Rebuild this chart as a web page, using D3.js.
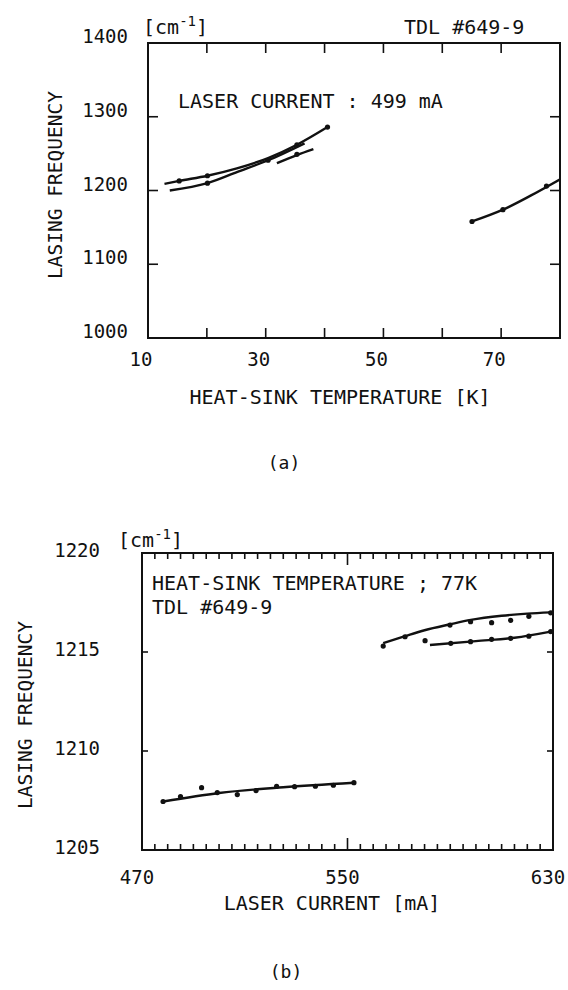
<!DOCTYPE html>
<html><head><meta charset="utf-8">
<script src="https://cdn.jsdelivr.net/npm/d3@7"></script>
<style>
html,body{margin:0;padding:0;background:#fff;}
text{font-family:"DejaVu Sans Mono",monospace;fill:#111;}
</style></head>
<body>
<svg id="c" width="568" height="990"></svg>
<script>
// ---------- DATA (a) ----------
const aXLabels = [10, 30, 50, 70];
const aXTicks = [20, 30, 40, 50, 60, 70];
const aYLabels = [1000, 1100, 1200, 1300, 1400];
const aYTicks = [1100, 1200, 1300];
// curves (temperature K, frequency cm-1)
const a1T = [12.8, 15.3, 20.1, 25.1, 30.4, 35.3, 40.5];
const a1F = [1209, 1213, 1220, 1230, 1244, 1262, 1286];
const a1DotT = [15.3, 20.1, 35.3, 40.5];
const a1DotF = [1213, 1220, 1262, 1286];
const a2T = [13.7, 20.1, 25.1, 30.4, 36.6];
const a2F = [1200, 1210, 1225, 1241, 1264];
const a2DotT = [20.1, 30.4];
const a2DotF = [1210, 1241];
const a3T = [31.9, 35.3, 38.1];
const a3F = [1237, 1248, 1256];
const a3DotT = [35.3];
const a3DotF = [1249];
const a4T = [65.05, 70.3, 75.0, 80.4];
const a4F = [1158, 1174, 1193, 1217];
const a4DotT = [65.05, 70.3, 77.7];
const a4DotF = [1158, 1174, 1206];

// ---------- DATA (b) ----------
const bXLabels = [470, 550, 630];
const bXTicks = d3.range(475, 630, 5);
const bXMajor = [550];
const bYLabels = [1205, 1210, 1215, 1220];
const bYTicks = [1210, 1215];
const b1I = [478.2, 500, 525, 552.5];
const b1F = [1207.45, 1207.88, 1208.17, 1208.4];
const b1DotI = [478.2, 485, 493.2, 499.3, 507.1, 514.4, 522.4, 529.4, 537.5, 544.5, 552.5];
const b1DotF = [1207.45, 1207.7, 1208.15, 1207.9, 1207.8, 1208.0, 1208.22, 1208.2, 1208.22, 1208.27, 1208.4];
const b2I = [563.9, 572.4, 580, 590, 598, 610, 620, 629.1];
const b2F = [1215.45, 1215.8, 1216.1, 1216.4, 1216.62, 1216.83, 1216.94, 1217.0];
const b2DotI = [563.9, 572.4, 589.9, 597.9, 606.1, 613.5, 620.6, 629.1];
const b2DotF = [1215.3, 1215.77, 1216.36, 1216.53, 1216.48, 1216.6, 1216.8, 1216.98];
const b3I = [582.1, 600, 615, 629.1];
const b3F = [1215.35, 1215.55, 1215.72, 1216.03];
const b3DotI = [580.2, 590.2, 597.9, 606.1, 613.5, 620.6, 629.1];
const b3DotF = [1215.57, 1215.44, 1215.52, 1215.64, 1215.69, 1215.8, 1216.03];

const svg = d3.select("#c");
const zip = (xs, ys) => xs.map((x, i) => [x, ys[i]]);

function panel(cfg) {
  const g = svg.append("g");
  const x = cfg.x, y = cfg.y;
  const [x0, x1] = x.range(), [y0, y1] = y.range(); // y0 bottom, y1 top
  const clipId = "clip" + cfg.id;
  svg.append("clipPath").attr("id", clipId).append("rect")
    .attr("x", x0).attr("y", y1).attr("width", x1 - x0).attr("height", y0 - y1);
  g.append("rect").attr("x", x0).attr("y", y1).attr("width", x1 - x0).attr("height", y0 - y1)
    .attr("fill", "none").attr("stroke", "#111").attr("stroke-width", 2);
  cfg.xTicks.forEach(v => {
    const len = cfg.xMajor && cfg.xMajor.includes(v) ? cfg.majorLen : cfg.xTickLen;
    g.append("line").attr("x1", x(v)).attr("x2", x(v)).attr("y1", y0).attr("y2", y0 - len)
      .attr("stroke", "#111").attr("stroke-width", 1.6);
    g.append("line").attr("x1", x(v)).attr("x2", x(v)).attr("y1", y1).attr("y2", y1 + len)
      .attr("stroke", "#111").attr("stroke-width", 1.6);
  });
  cfg.yTicks.forEach(v => {
    g.append("line").attr("x1", x0).attr("x2", x0 + cfg.yTickLen).attr("y1", y(v)).attr("y2", y(v))
      .attr("stroke", "#111").attr("stroke-width", 1.6);
    g.append("line").attr("x1", x1).attr("x2", x1 - cfg.yTickLen).attr("y1", y(v)).attr("y2", y(v))
      .attr("stroke", "#111").attr("stroke-width", 1.6);
  });
  g.selectAll(".xl").data(cfg.xLabels).join("text")
    .attr("x", d => x(d) + cfg.xLabelDx).attr("y", y0 + cfg.xLabelDy)
    .attr("text-anchor", "middle").attr("font-size", 19).text(d => d);
  g.selectAll(".yl").data(cfg.yLabels).join("text")
    .attr("x", cfg.yLabelX).attr("y", d => y(d) + cfg.yLabelDy)
    .attr("text-anchor", "end").attr("font-size", 19).text(d => d);
  const line = d3.line().x(d => x(d[0])).y(d => y(d[1])).curve(d3.curveMonotoneX);
  const sg = g.append("g").attr("clip-path", `url(#${clipId})`);
  cfg.series.forEach(s => {
    sg.append("path").attr("d", line(s.curve)).attr("fill", "none")
      .attr("stroke", "#111").attr("stroke-width", 2.4);
    sg.selectAll(null).data(s.dots).join("circle")
      .attr("cx", d => x(d[0])).attr("cy", d => y(d[1])).attr("r", 2.6).attr("fill", "#111");
  });
  return g;
}

function unitLabel(xx, yy) {
  const t = svg.append("text").attr("x", xx).attr("y", yy).attr("font-size", 20);
  t.append("tspan").text("[cm");
  t.append("tspan").attr("font-size", 14).attr("dy", -8).text("-1");
  t.append("tspan").attr("dy", 8).text("]");
}

// ----- panel (a)
const xa = d3.scaleLinear([10, 80], [148, 560]);
const ya = d3.scaleLinear([1000, 1400], [338, 43]);
panel({
  id: "a", x: xa, y: ya, xTicks: aXTicks, yTicks: aYTicks, xTickLen: 10, yTickLen: 10,
  xLabels: aXLabels, yLabels: aYLabels, xLabelDx: -7, xLabelDy: 28, yLabelX: 128, yLabelDy: 0,
  series: [
    {curve: zip(a1T, a1F), dots: zip(a1DotT, a1DotF)},
    {curve: zip(a2T, a2F), dots: zip(a2DotT, a2DotF)},
    {curve: zip(a3T, a3F), dots: zip(a3DotT, a3DotF)},
    {curve: zip(a4T, a4F), dots: zip(a4DotT, a4DotF)}
  ]
});
unitLabel(143, 34);
svg.append("text").attr("x", 404).attr("y", 34).attr("font-size", 20).text("TDL #649-9");
svg.append("text").attr("x", 178).attr("y", 108).attr("font-size", 20).text("LASER CURRENT : 499 mA");
svg.append("text").attr("transform", "translate(62,185) rotate(-90)").attr("text-anchor", "middle")
  .attr("font-size", 19.5).text("LASING FREQUENCY");
svg.append("text").attr("x", 340).attr("y", 404).attr("text-anchor", "middle").attr("font-size", 20)
  .text("HEAT-SINK TEMPERATURE [K]");
svg.append("text").attr("x", 284).attr("y", 469).attr("text-anchor", "middle").attr("font-size", 18).text("(a)");

// ----- panel (b)
const xb = d3.scaleLinear([470, 630], [142, 553]);
const yb = d3.scaleLinear([1205, 1220], [850, 553]);
panel({
  id: "b", x: xb, y: yb, xTicks: bXTicks, xMajor: bXMajor, majorLen: 12, yTicks: bYTicks,
  xTickLen: 6, yTickLen: 6,
  xLabels: bXLabels, yLabels: bYLabels, xLabelDx: -5, xLabelDy: 34, yLabelX: 100, yLabelDy: 4,
  series: [
    {curve: zip(b1I, b1F), dots: zip(b1DotI, b1DotF)},
    {curve: zip(b2I, b2F), dots: zip(b2DotI, b2DotF)},
    {curve: zip(b3I, b3F), dots: zip(b3DotI, b3DotF)}
  ]
});
unitLabel(118, 547);
svg.append("text").attr("x", 152).attr("y", 590).attr("font-size", 20).text("HEAT-SINK TEMPERATURE ; 77K");
svg.append("text").attr("x", 152).attr("y", 614).attr("font-size", 20).text("TDL #649-9");
svg.append("text").attr("transform", "translate(32,715) rotate(-90)").attr("text-anchor", "middle")
  .attr("font-size", 19.5).text("LASING FREQUENCY");
svg.append("text").attr("x", 332).attr("y", 910).attr("text-anchor", "middle").attr("font-size", 20)
  .text("LASER CURRENT [mA]");
svg.append("text").attr("x", 286).attr("y", 978).attr("text-anchor", "middle").attr("font-size", 18).text("(b)");
</script>
</body></html>
